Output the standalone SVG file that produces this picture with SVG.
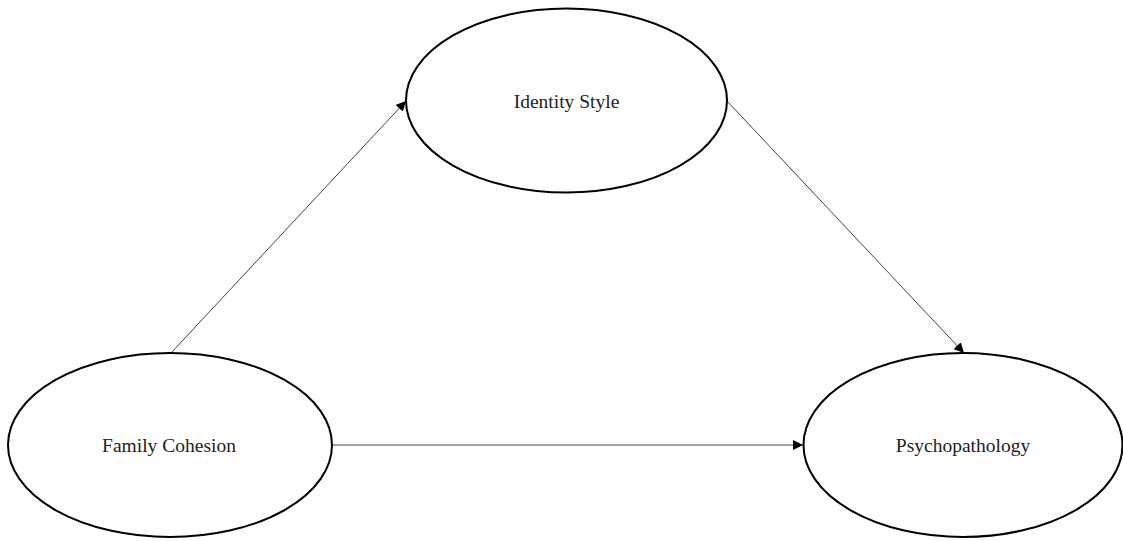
<svg xmlns="http://www.w3.org/2000/svg" width="1123" height="541" viewBox="0 0 1123 541">
<style>
.node ellipse{fill:#fff;stroke:#000;stroke-width:2}
.node text{font-family:"Liberation Serif","Times New Roman",serif;font-size:19.5px;fill:#222;text-anchor:middle}
.edge{stroke:#444;stroke-width:1;fill:none;marker-end:url(#arr)}
</style>
<defs>
<marker id="arr" viewBox="0 0 10 10" refX="10" refY="5" markerWidth="10" markerHeight="10" markerUnits="userSpaceOnUse" orient="auto">
<path d="M0,0 L10,5 L0,10 z" fill="#000"/>
</marker>
</defs>
<rect width="1123" height="541" fill="#fff"/>
<g id="connectors">
<line class="edge" x1="171" y1="353" x2="406" y2="101"/>
<line class="edge" x1="727" y1="101" x2="964" y2="353"/>
<line class="edge" x1="332" y1="445" x2="803" y2="445"/>
</g>
<g id="identity-style" class="node">
<ellipse cx="566.5" cy="100.5" rx="160.5" ry="92"/>
<text x="566.5" y="108">Identity Style</text>
</g>
<g id="family-cohesion" class="node">
<ellipse cx="170" cy="445" rx="162" ry="92"/>
<text x="169" y="452">Family Cohesion</text>
</g>
<g id="psychopathology" class="node">
<ellipse cx="963" cy="445" rx="159.5" ry="92"/>
<text x="963" y="452">Psychopathology</text>
</g>
</svg>
